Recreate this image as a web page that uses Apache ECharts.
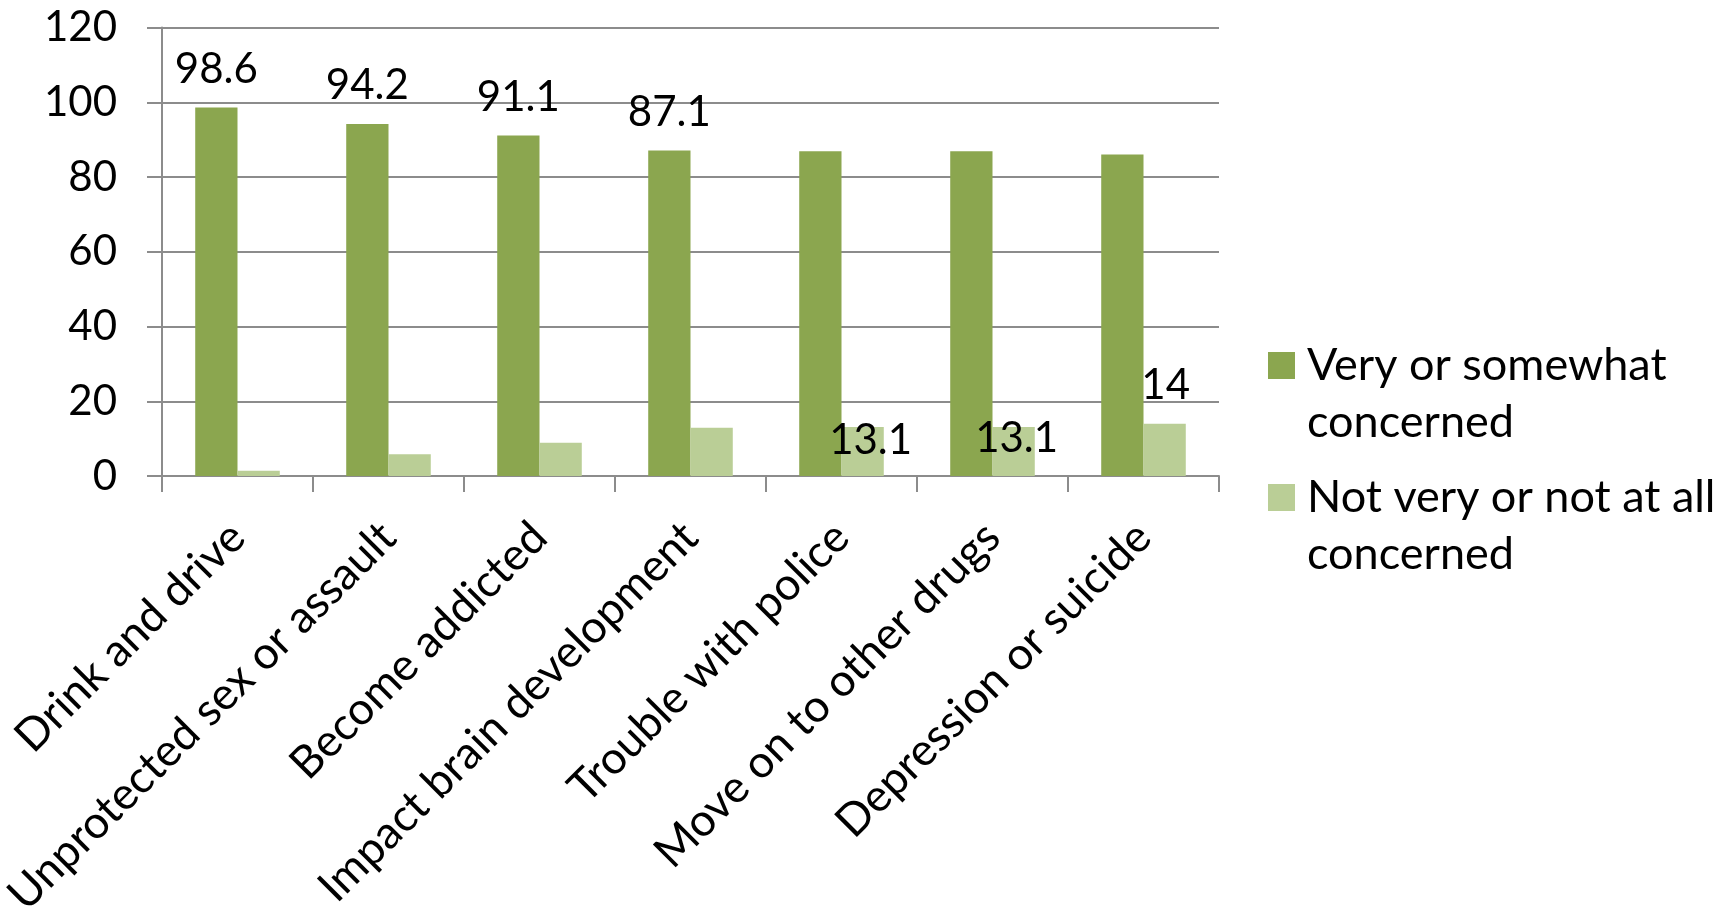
<!DOCTYPE html>
<html>
<head>
<meta charset="utf-8">
<script src="https://cdn.jsdelivr.net/npm/echarts@6/dist/echarts.min.js"></script>
<style>
html,body{margin:0;padding:0;background:#fff;}
#chart{width:1723px;height:909px;}
</style>
</head>
<body>
<div id="chart"></div>
<script>
const categories = ['Drink and drive', 'Unprotected sex or assault', 'Become addicted', 'Impact brain development', 'Trouble with police', 'Move on to other drugs', 'Depression or suicide'];
const seriesNames = ['Very or somewhat concerned', 'Not very or not at all concerned'];
const legendLines = [['Very or somewhat', 'concerned'], ['Not very or not at all', 'concerned']];
const concerned = [98.6, 94.2, 91.1, 87.1, 86.9, 86.9, 86.0];
const notConcerned = [1.4, 5.8, 8.9, 12.9, 13.1, 13.1, 14.0];
const yTicks = { min: 0, max: 120, interval: 20 };

// which data labels are shown (as in the reference)
const showConcernedLabel = [true, true, true, true, false, false, false];
const showNotConcernedLabel = [false, false, false, false, true, true, true];
// label nudges (style only)
const notConcernedLabelOffset = [[0,0],[0,0],[0,0],[0,0],[8,51],[3,49],[1,0]];

const FONT = 'Lato';
const FS_NUM = 42;
const FS_TXT = 45;
const DARK = '#8BA64F';
const LIGHT = '#BACE96';
const GRID = '#8C8C8C';

const chart = echarts.init(document.getElementById('chart'), null, {renderer: 'canvas'});

const labelBase = { show: true, position: 'top', distance: 17, color: '#000', fontFamily: FONT, fontSize: FS_NUM };

function legendFor(i, top) {
  return {
    data: [seriesNames[i]], orient: 'vertical', left: 1268, top: top, padding: 0,
    itemWidth: 27, itemHeight: 27, icon: 'rect',
    formatter: () => '\n' + legendLines[i].join('\n'),
    textStyle: { fontFamily: FONT, fontSize: FS_TXT, color: '#000', lineHeight: 57, padding: [0, 0, 0, 7] }
  };
}

const option = {
  backgroundColor: '#fff',
  animation: false,
  textStyle: { fontFamily: FONT },
  grid: { left: 162, right: 1723 - 1219, top: 27.5, bottom: 909 - 476, containLabel: false, outerBoundsMode: 'none' },
  legend: [legendFor(0, 280), legendFor(1, 412)],
  xAxis: {
    type: 'category',
    data: categories,
    boundaryGap: true,
    axisLine: { show: true, lineStyle: { color: GRID, width: 2 } },
    axisTick: { show: true, alignWithLabel: false, length: 16, lineStyle: { color: GRID, width: 2 } },
    axisLabel: { rotate: 45, interval: 0, margin: 54, color: '#000', fontFamily: FONT, fontSize: FS_TXT }
  },
  yAxis: {
    type: 'value',
    min: yTicks.min, max: yTicks.max, interval: yTicks.interval,
    axisLine: { show: true, lineStyle: { color: GRID, width: 2 } },
    axisTick: { show: true, inside: false, length: 15, lineStyle: { color: GRID, width: 2 } },
    splitLine: { show: true, lineStyle: { color: GRID, width: 2 } },
    axisLabel: { margin: 45, color: '#000', fontFamily: FONT, fontSize: FS_NUM }
  },
  series: [
    {
      name: seriesNames[0], type: 'bar', barGap: '0%', barCategoryGap: '44%',
      itemStyle: { color: DARK },
      data: concerned.map((v, i) => ({ value: v, label: Object.assign({}, labelBase, { show: showConcernedLabel[i] }) }))
    },
    {
      name: seriesNames[1], type: 'bar', barGap: '0%', barCategoryGap: '44%',
      itemStyle: { color: LIGHT },
      data: notConcerned.map((v, i) => ({ value: v, label: Object.assign({}, labelBase, { show: showNotConcernedLabel[i], offset: notConcernedLabelOffset[i] }) }))
    }
  ]
};
chart.setOption(option);
</script>
</body>
</html>
